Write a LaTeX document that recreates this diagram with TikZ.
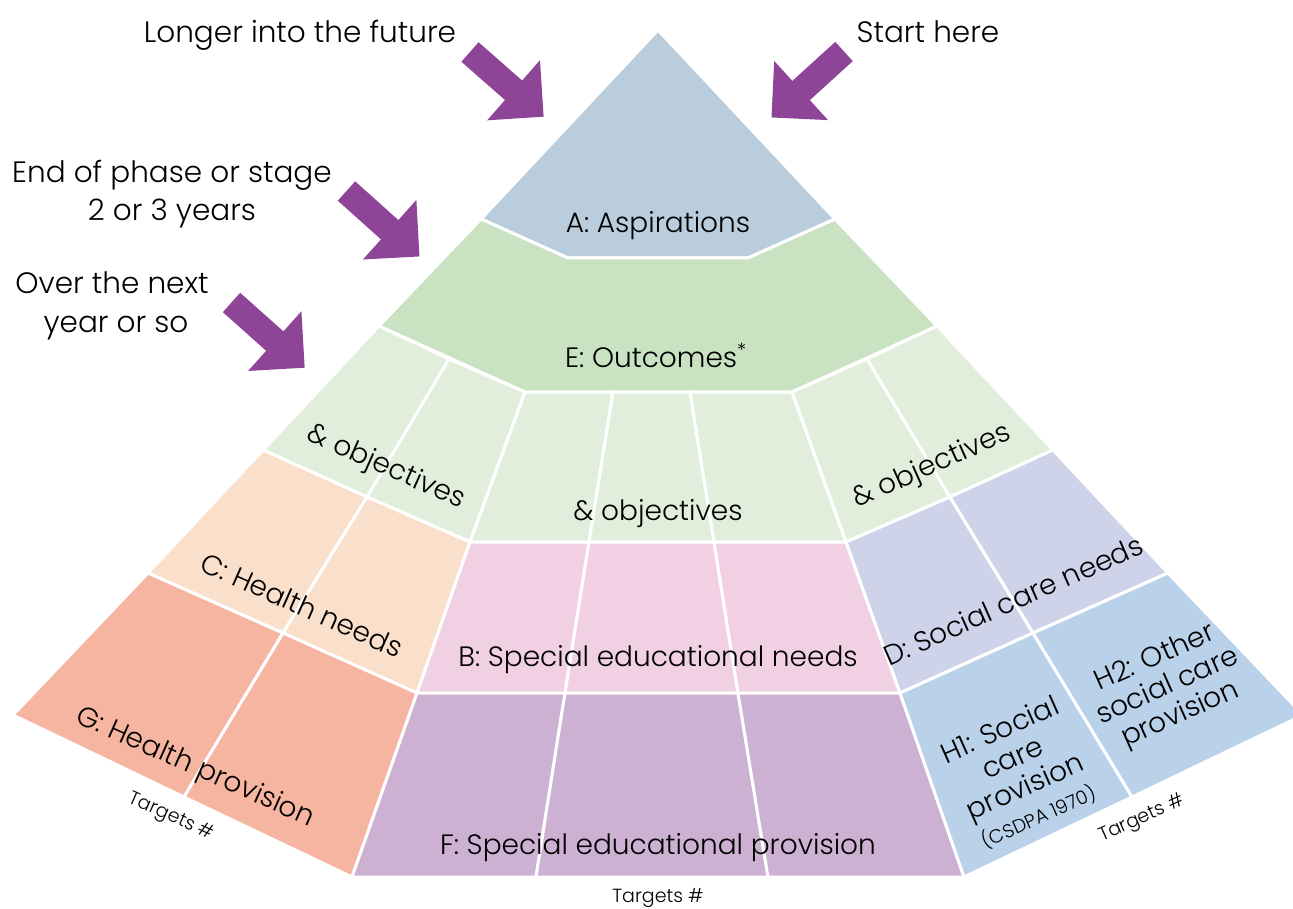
\documentclass[tikz,border=0pt]{standalone}
\usepackage{fontspec}
\setmainfont{Poppins}[UprightFont={* Light}]
\definecolor{cA}{HTML}{B9CDDD}
\definecolor{cE}{HTML}{C9E2C1}
\definecolor{cO}{HTML}{E2EEDC}
\definecolor{cC}{HTML}{FADFCA}
\definecolor{cG}{HTML}{F5B5A0}
\definecolor{cB}{HTML}{F0D0E2}
\definecolor{cF}{HTML}{CDB1D3}
\definecolor{cD}{HTML}{CFD3E9}
\definecolor{cH}{HTML}{BAD1EA}
\definecolor{cArrow}{HTML}{8E4598}
\newcommand{\purplearrow}[3]{%
  \fill[cArrow, shift={(#1,#2)}, rotate=#3]
    (0,-13) -- (58,-13) -- (58,-40) -- (98,0) -- (58,40) -- (58,13) -- (0,13) -- cycle;}
\begin{document}
\begin{tikzpicture}[x=1pt,y=-1pt,
  cell/.style={draw=white, line width=3pt, line join=round},
  toplbl/.style={font=\fontsize{29.5}{38}\selectfont, inner sep=0pt, align=center},
  lbl/.style={font=\fontsize{28}{31}\selectfont, inner sep=0pt, align=center},
  smalllbl/.style={font=\fontsize{19}{21}\selectfont, inner sep=0pt, align=center}]
\useasboundingbox (0,0) rectangle (1293,909);
\fill[white] (0,0) rectangle (1293,909);
\begin{scope}
\clip (0,0) rectangle (1293,909);
% outer edge points
\coordinate (P0) at (658,30);
\coordinate (L1) at (481,219);  \coordinate (R1) at (835,219);
\coordinate (L2) at (379,326);  \coordinate (R2) at (937,326);
\coordinate (L3) at (263,450);  \coordinate (R3) at (1053,450);
\coordinate (L4) at (148,573);  \coordinate (R4) at (1168,573);
\coordinate (L5) at (13,715);   \coordinate (R5) at (1303,715);
% inner boundary points
\coordinate (a1) at (568,258);  \coordinate (a2) at (748,258);
\coordinate (e1) at (525,392);  \coordinate (e2) at (792,392);
\coordinate (m3L) at (470,542); \coordinate (m3R) at (846,542);
\coordinate (m4L) at (417,693); \coordinate (m4R) at (900,693);
\coordinate (m5L) at (352,877); \coordinate (m5R) at (964,877);
% side dividers
\coordinate (d1) at (449,359); \coordinate (d2) at (367,497);
\coordinate (d3) at (283,633); \coordinate (d4) at (184,797);
\coordinate (D1) at (867,359); \coordinate (D2) at (950,497);
\coordinate (D3) at (1033,633); \coordinate (D4) at (1132,797);
% middle dividers
\coordinate (i1) at (613,392); \coordinate (i2) at (589,542);
\coordinate (i3) at (565,693); \coordinate (i4) at (536,877);
\coordinate (j1) at (690,392); \coordinate (j2) at (714,542);
\coordinate (j3) at (738,693); \coordinate (j4) at (768,877);
% A and E
\path[cell, fill=cA] (P0) -- (L1) -- (a1) -- (a2) -- (R1) -- cycle;
\path[cell, fill=cE] (L1) -- (L2) -- (e1) -- (e2) -- (R2) -- (R1) -- (a2) -- (a1) -- cycle;
% objectives row
\path[cell, fill=cO] (L2) -- (d1) -- (d2) -- (L3) -- cycle;
\path[cell, fill=cO] (d1) -- (e1) -- (m3L) -- (d2) -- cycle;
\path[cell, fill=cO] (e1) -- (i1) -- (i2) -- (m3L) -- cycle;
\path[cell, fill=cO] (i1) -- (j1) -- (j2) -- (i2) -- cycle;
\path[cell, fill=cO] (j1) -- (e2) -- (m3R) -- (j2) -- cycle;
\path[cell, fill=cO] (e2) -- (D1) -- (D2) -- (m3R) -- cycle;
\path[cell, fill=cO] (D1) -- (R2) -- (R3) -- (D2) -- cycle;
% needs row
\path[cell, fill=cC] (L3) -- (d2) -- (d3) -- (L4) -- cycle;
\path[cell, fill=cC] (d2) -- (m3L) -- (m4L) -- (d3) -- cycle;
\path[cell, fill=cB] (m3L) -- (i2) -- (i3) -- (m4L) -- cycle;
\path[cell, fill=cB] (i2) -- (j2) -- (j3) -- (i3) -- cycle;
\path[cell, fill=cB] (j2) -- (m3R) -- (m4R) -- (j3) -- cycle;
\path[cell, fill=cD] (m3R) -- (D2) -- (D3) -- (m4R) -- cycle;
\path[cell, fill=cD] (D2) -- (R3) -- (R4) -- (D3) -- cycle;
% provision row
\path[cell, fill=cG] (L4) -- (d3) -- (d4) -- (L5) -- cycle;
\path[cell, fill=cG] (d3) -- (m4L) -- (m5L) -- (d4) -- cycle;
\path[cell, fill=cF] (m4L) -- (i3) -- (i4) -- (m5L) -- cycle;
\path[cell, fill=cF] (i3) -- (j3) -- (j4) -- (i4) -- cycle;
\path[cell, fill=cF] (j3) -- (m4R) -- (m5R) -- (j4) -- cycle;
\path[cell, fill=cH] (m4R) -- (D3) -- (D4) -- (m5R) -- cycle;
\path[cell, fill=cH] (D3) -- (R4) -- (R5) -- (D4) -- cycle;
\end{scope}
% arrows
\purplearrow{470}{52}{-41.3}
\purplearrow{844}{51.5}{-137.7}
\purplearrow{346.5}{191}{-41.9}
\purplearrow{231.5}{302.5}{-41.7}
% side texts
\node[toplbl, anchor=base] (tLonger) at (300,43) {Longer into the future};
\node[toplbl, anchor=base] (tStart) at (928,43) {Start here};
\node[toplbl, anchor=base] (tEnd1) at (172,183) {End of phase or stage};
\node[toplbl, anchor=base] (tEnd2) at (172,221) {2 or 3 years};
\node[toplbl, anchor=base] (tOver1) at (112,294) {Over the next};
\node[toplbl, anchor=base] (tOver2) at (116,333) {year or so};
% pyramid labels
\node[lbl, anchor=base] (lA) at (658,233) {A: Aspirations};
\node[lbl, anchor=base] (lE) at (656,367) {E: Outcomes\textsuperscript{*}};
\node[lbl, anchor=base] (lOm) at (658,520) {\& objectives};
\node[lbl, rotate=-24] (lOl) at (386,468) {\& objectives};
\node[lbl, rotate=24] (lOr) at (932,467) {\& objectives};
\node[lbl, rotate=-24] (lC) at (302,605) {C: Health needs};
\node[lbl, anchor=base] (lB) at (658,666) {B: Special educational needs};
\node[lbl, rotate=24] (lD) at (1013,600) {D: Social care needs};
\node[lbl, rotate=-24] (lG) at (195,768) {G: Health provision};
\node[lbl, anchor=base] (lF) at (658,854) {F: Special educational provision};
\node[lbl, rotate=24] (lH1) at (1019,773) {H1: Social\\care\\provision\\{\fontsize{19}{21}\selectfont (CSDPA 1970)}};
\node[lbl, rotate=24] (lH2) at (1168,687) {H2: Other\\social care\\provision};
% targets
\node[smalllbl, rotate=-24] (tgL) at (171,817) {Targets \#};
\node[smalllbl, anchor=base] (tgM) at (658,902) {Targets \#};
\node[smalllbl, rotate=24] (tgR) at (1142,819) {Targets \#};
\end{tikzpicture}
\end{document}
